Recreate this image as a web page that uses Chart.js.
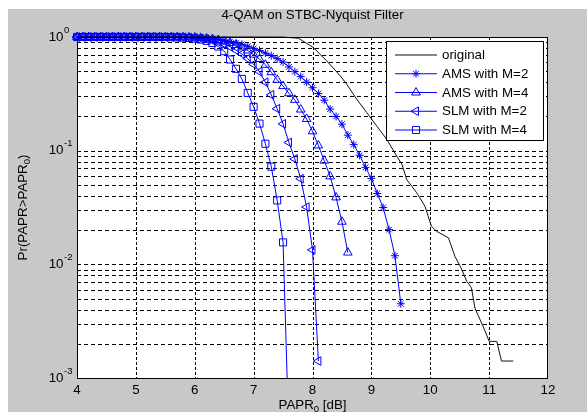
<!DOCTYPE html>
<html><head><meta charset="utf-8">
<script src="https://cdn.jsdelivr.net/npm/chart.js@4.4.1/dist/chart.umd.min.js"></script>
<style>html,body{margin:0;padding:0;background:#fff;}canvas{display:block;}</style>
</head><body>
<canvas id="c" width="587" height="412"></canvas>
<script>
const chartTitle = '4-QAM on STBC-Nyquist Filter';
const xAxisTitle = ['PAPR', '0', ' [dB]'];
const yAxisTitle = ['Pr(PAPR>PAPR', '0', ')'];
const seriesNames = ['original', 'AMS with M=2', 'AMS with M=4', 'SLM with M=2', 'SLM with M=4'];

const papr0 = [4.0,4.1,4.2,4.3,4.4,4.5,4.6,4.7,4.8,4.9,5.0,5.1,5.2,5.3,5.4,5.5,5.6,5.7,5.8,5.9,
  6.0,6.1,6.2,6.3,6.4,6.5,6.6,6.7,6.8,6.9,7.0,7.1,7.2,7.3,7.4,7.5,7.6,7.7,7.8,7.9,
  8.0,8.1,8.2,8.3,8.4,8.5,8.6,8.7,8.8,8.9,9.0,9.1,9.2,9.3,9.4,9.5];

const origX = [4.0,7.0,7.5,7.76,8.01,8.24,8.47,8.58,8.75,8.92,9.09,9.26,9.43,9.52,9.60,9.77,9.91,
  10.02,10.11,10.31,10.42,10.51,10.62,10.70,10.76,10.82,10.93,11.00,11.13,11.21,11.41];
const origY = [1,1,0.998,0.975,0.811,0.618,0.456,0.385,0.284,0.217,0.165,0.126,0.0897,0.0757,0.0558,0.0426,0.0325,
  0.0216,0.0195,0.0171,0.0117,0.0096,0.0071,0.0062,0.0041,0.0035,0.0026,0.0021,0.0021,0.00141,0.00141];

const ams2 = [1,1,1,1,1,1,1,1,1,1,1,1,1,1,1,1,
  0.999,0.998,0.996,0.993,0.99,0.985,0.978,0.967,0.952,0.935,0.913,0.89,0.862,0.83,
  0.795,0.76,0.722,0.685,0.645,0.602,0.545,0.495,0.448,0.401,0.358,0.318,0.278,0.232,
  0.200,0.171,0.137,0.113,0.091,0.0713,0.057,0.042,0.0316,0.0202,0.0119,0.0045];
const ams4 = [1,1,1,1,1,1,1,1,1,1,1,1,1,1,1,1,
  0.999,0.998,0.996,0.993,0.989,0.982,0.972,0.958,0.94,0.915,0.885,0.85,0.81,0.76,
  0.70,0.64,0.57,0.49,0.42,0.37,0.32,0.28,0.23,0.19,0.148,0.111,0.0817,0.0594,0.0388,0.0237,0.0127];
const slm2 = [1,1,1,1,1,1,1,1,1,1,1,1,1,1,1,
  0.999,0.998,0.996,0.993,0.988,0.981,0.97,0.955,0.933,0.905,0.868,0.82,0.765,0.71,0.645,
  0.575,0.495,0.40,0.31,0.234,0.172,0.118,0.0845,0.0566,0.0319,0.0134,0.00141];
const slm4 = [1,1,1,1,1,1,1,1,1,1,1,1,1,1,
  0.999,0.998,0.996,0.993,0.988,0.98,0.968,0.95,0.925,0.885,0.825,0.75,0.634,0.525,0.428,
  0.322,0.243,0.173,0.115,0.0723,0.0365,0.0156,0.0003];

const xTickValues = [4,5,6,7,8,9,10,11,12];
const yTickValues = [1,0.1,0.01,0.001];
const yTickExponents = ['0','-1','-2','-3'];
const yGridValues = [0.001,0.002,0.003,0.004,0.005,0.006,0.007,0.008,0.009,
  0.01,0.02,0.03,0.04,0.05,0.06,0.07,0.08,0.09,
  0.1,0.2,0.3,0.4,0.5,0.6,0.7,0.8,0.9,1];

const FONT = "'Liberation Sans', Arial, sans-serif";
const BLUE = '#0000ff';
const toPts = (vals) => vals.map((v, i) => ({x: papr0[i], y: v}));
const CLIP = {left: 6, top: 8, right: 6, bottom: 0};

function markerDs(label, vals, style, rot, radius) {
  return {label, data: toPts(vals), borderColor: BLUE, borderWidth: 1, tension: 0,
    pointStyle: style, pointRotation: rot, pointRadius: radius, pointBorderColor: BLUE,
    pointBackgroundColor: 'rgba(0,0,0,0)', pointBorderWidth: 1, clip: CLIP};
}

const datasets = [
  {label: seriesNames[0], data: origX.map((x, i) => ({x, y: origY[i]})), borderColor: '#111',
   borderWidth: 1, pointRadius: 0, tension: 0, clip: CLIP},
  markerDs(seriesNames[1], ams2, 'star', 0, 4),
  markerDs(seriesNames[2], ams4, 'triangle', 0, 5),
  markerDs(seriesNames[3], slm2, 'triangle', -90, 5),
  markerDs(seriesNames[4], slm4, 'rect', 0, 5)
];

function drawMarker(ctx, ds, x, y) {
  const st = ds.pointStyle, r = ds.pointRadius || 0;
  if (!r) return;
  if (Chart.helpers && Chart.helpers.drawPoint) {
    Chart.helpers.drawPoint(ctx, {pointStyle: st, rotation: ds.pointRotation || 0, radius: r, borderWidth: 1}, x, y);
  }
}

const figurePlugin = {
  id: 'figure',
  beforeDraw(chart) {
    const ctx = chart.ctx, a = chart.chartArea;
    const xs = chart.scales.x, ys = chart.scales.y;
    ctx.save();
    ctx.fillStyle = '#fff'; ctx.fillRect(0, 0, chart.width, chart.height);
    ctx.fillStyle = '#c8c8c8'; ctx.fillRect(8, 9, chart.width - 8, chart.height - 9);
    ctx.fillStyle = '#fff'; ctx.fillRect(a.left, a.top, a.right - a.left, a.bottom - a.top);
    ctx.strokeStyle = '#000'; ctx.lineWidth = 1;
    ctx.setLineDash([4, 3]);
    yGridValues.forEach(v => {
      const y = Math.round(ys.getPixelForValue(v)) + 0.5;
      if (y <= a.top + 1 || y >= a.bottom - 1) return;
      ctx.beginPath(); ctx.moveTo(a.left, y); ctx.lineTo(a.right, y); ctx.stroke();
    });
    ctx.setLineDash([3, 2]);
    xTickValues.forEach(v => {
      const x = Math.round(xs.getPixelForValue(v)) + 0.5;
      if (x <= a.left + 1 || x >= a.right - 1) return;
      ctx.beginPath(); ctx.moveTo(x, a.top); ctx.lineTo(x, a.bottom); ctx.stroke();
    });
    ctx.restore();
  },
  afterDraw(chart) {
    const ctx = chart.ctx, a = chart.chartArea;
    const ys = chart.scales.y;
    ctx.save();
    // axes box
    ctx.setLineDash([]);
    ctx.strokeStyle = '#000'; ctx.lineWidth = 1;
    ctx.strokeRect(a.left + 0.5, a.top + 0.5, a.right - a.left - 1, a.bottom - a.top);
    ctx.fillStyle = '#000';
    // title
    ctx.font = '13.33px ' + FONT; ctx.textAlign = 'center'; ctx.textBaseline = 'alphabetic';
    ctx.fillText(chartTitle, (a.left + a.right) / 2, 18.5);
    // y tick labels with superscripts
    yTickValues.forEach((v, i) => {
      const y = ys.getPixelForValue(v);
      ctx.font = '13.33px ' + FONT; ctx.textAlign = 'right'; ctx.textBaseline = 'middle';
      ctx.fillText('10', a.left - 13.5, y);
      ctx.font = '9.5px ' + FONT; ctx.textAlign = 'left';
      ctx.fillText(yTickExponents[i], a.left - 13, y - 7);
    });
    // x axis title
    const big = '13.33px ' + FONT, small = '9.5px ' + FONT;
    ctx.textBaseline = 'alphabetic'; ctx.textAlign = 'left';
    ctx.font = big; const w0 = ctx.measureText(xAxisTitle[0]).width, w2 = ctx.measureText(xAxisTitle[2]).width;
    ctx.font = small; const w1 = ctx.measureText(xAxisTitle[1]).width;
    let sx = (a.left + a.right) / 2 - (w0 + w1 + w2) / 2;
    const by = 409;
    ctx.font = big; ctx.fillText(xAxisTitle[0], sx, by);
    ctx.font = small; ctx.fillText(xAxisTitle[1], sx + w0, by + 3);
    ctx.font = big; ctx.fillText(xAxisTitle[2], sx + w0 + w1, by);
    // y axis title
    ctx.save();
    ctx.translate(27, (a.top + a.bottom) / 2);
    ctx.rotate(-Math.PI / 2);
    ctx.font = big; const v0 = ctx.measureText(yAxisTitle[0]).width, v2 = ctx.measureText(yAxisTitle[2]).width;
    ctx.font = small; const v1 = ctx.measureText(yAxisTitle[1]).width;
    let tx = -(v0 + v1 + v2) / 2;
    ctx.font = big; ctx.fillText(yAxisTitle[0], tx, 0);
    ctx.font = small; ctx.fillText(yAxisTitle[1], tx + v0, 3);
    ctx.font = big; ctx.fillText(yAxisTitle[2], tx + v0 + v1, 0);
    ctx.restore();
    // legend
    const lx = 386.5, ly = 41.5, lw = 157, lh = 99;
    ctx.fillStyle = '#fff'; ctx.fillRect(lx, ly, lw, lh);
    ctx.strokeStyle = '#000'; ctx.strokeRect(lx, ly, lw, lh);
    chart.data.datasets.forEach((ds, i) => {
      const y = 55 + i * 18.75;
      ctx.strokeStyle = ds.borderColor; ctx.lineWidth = 1;
      ctx.beginPath(); ctx.moveTo(395, y); ctx.lineTo(437, y); ctx.stroke();
      ctx.fillStyle = 'rgba(0,0,0,0)';
      drawMarker(ctx, ds, 416, y);
      ctx.fillStyle = '#000'; ctx.font = big; ctx.textAlign = 'left'; ctx.textBaseline = 'middle';
      ctx.fillText(ds.label, 442, y + 0.5);
    });
    ctx.restore();
  }
};

new Chart(document.getElementById('c'), {
  type: 'line',
  data: {datasets},
  options: {
    responsive: false, animation: false, devicePixelRatio: 1, events: [],
    layout: {padding: {left: 0, right: 39, top: 37, bottom: 0}},
    plugins: {legend: {display: false}, title: {display: false}, tooltip: {enabled: false}},
    scales: {
      x: {type: 'linear', min: 4, max: 12,
        grid: {display: false, drawTicks: false}, border: {display: false},
        afterBuildTicks: s => { s.ticks = xTickValues.map(v => ({value: v})); },
        ticks: {color: '#000', font: {family: FONT, size: 13.33}, padding: 4, maxRotation: 0, autoSkip: false},
        afterFit: s => { s.height = 34; }},
      y: {type: 'logarithmic', min: 0.001, max: 1,
        grid: {display: false, drawTicks: false}, border: {display: false},
        afterBuildTicks: s => { s.ticks = yTickValues.map(v => ({value: v})); },
        ticks: {display: false},
        afterFit: s => { s.width = 77; }}
    }
  },
  plugins: [figurePlugin]
});
</script>
</body></html>
